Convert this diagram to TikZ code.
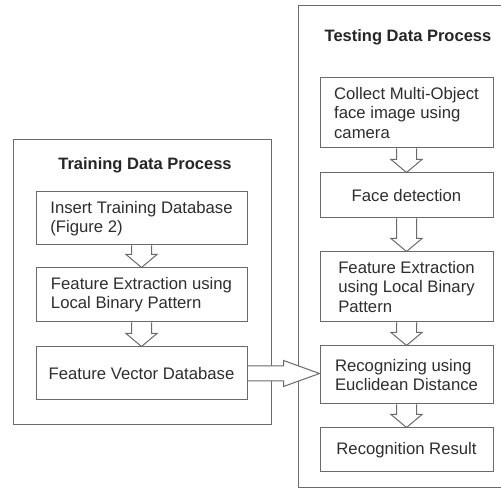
\documentclass[tikz,border=0pt]{standalone}
\usepackage{fontspec}
\setmainfont{Liberation Sans}
\usepackage{tikz}
\usetikzlibrary{calc}
\usepackage{xcolor}
\definecolor{edgegray}{HTML}{6A6A6A}
\definecolor{inkgray}{HTML}{2E2E2E}

% hollow block arrow from one box down to the next
\newcommand{\blockdown}[2]{%
  \draw[blockarr] ($(#1.south)+(-10,0)$) -- ($(#2.north)+(-10,13)$) -- ($(#2.north)+(-15.5,13)$)
    -- (#2.north) -- ($(#2.north)+(15.5,13)$) -- ($(#2.north)+(10,13)$) -- ($(#1.south)+(10,0)$);}

\begin{document}
\begin{tikzpicture}[x=1pt, y=1pt,
  procbox/.style={draw=edgegray, line width=1pt, fill=white, align=left, inner sep=0pt,
    text=inkgray, font=\fontsize{16.7}{19.2}\selectfont},
  frame/.style={draw=edgegray, line width=1pt, inner sep=0pt},
  blockarr/.style={draw=edgegray, line width=1pt, fill=white},
  headline/.style={font=\bfseries\fontsize{16.5}{19}\selectfont, text=black!85}]
  \useasboundingbox (0,0) rectangle (501,490);

  % Training side
  \node[frame, minimum width=258, minimum height=285] (trainframe) at (142,207.5) {};
  \node[headline] (trainhead) at (145,325) {Training Data Process};
  \node[procbox, minimum width=211, minimum height=53] (L1) at (141.5,271.5) {Insert Training Database\\(Figure 2)};
  \node[procbox, minimum width=211, minimum height=54] (L2) at (141.5,195) {Feature Extraction using\\Local Binary Pattern};
  \node[procbox, minimum width=211, minimum height=53] (L3) at (141.5,116.5) {Feature Vector Database};

  % Testing side
  \node[frame, minimum width=205, minimum height=482] (testframe) at (400.5,243) {};
  \node[headline] (testhead) at (408,452.5) {Testing Data Process};
  \node[procbox, minimum width=173, minimum height=70] (R1) at (406.5,377) {Collect Multi-Object\\face image using\\camera};
  \node[procbox, minimum width=173, minimum height=45] (R2) at (406.5,294.5) {Face detection};
  \node[procbox, minimum width=173, minimum height=70] (R3) at (406.5,203) {Feature Extraction\\using Local Binary\\Pattern};
  \node[procbox, minimum width=173, minimum height=58] (R4) at (406.5,115) {Recognizing using\\Euclidean Distance};
  \node[procbox, minimum width=173, minimum height=44] (R5) at (406.5,40) {Recognition Result};

  \blockdown{L1}{L2}
  \blockdown{L2}{L3}
  \blockdown{R1}{R2}
  \blockdown{R2}{R3}
  \blockdown{R3}{R4}
  \blockdown{R4}{R5}

  % database feeds the recognizer
  \coordinate (tip) at (R4.west |- L3.east);
  \draw[blockarr] ($(L3.east)+(0.5,7.5)$) -- ($(tip)+(-36,7.5)$) -- ($(tip)+(-36,13)$) -- (tip)
    -- ($(tip)+(-36,-13)$) -- ($(tip)+(-36,-7.5)$) -- ($(L3.east)+(0.5,-7.5)$);
\end{tikzpicture}
\end{document}
